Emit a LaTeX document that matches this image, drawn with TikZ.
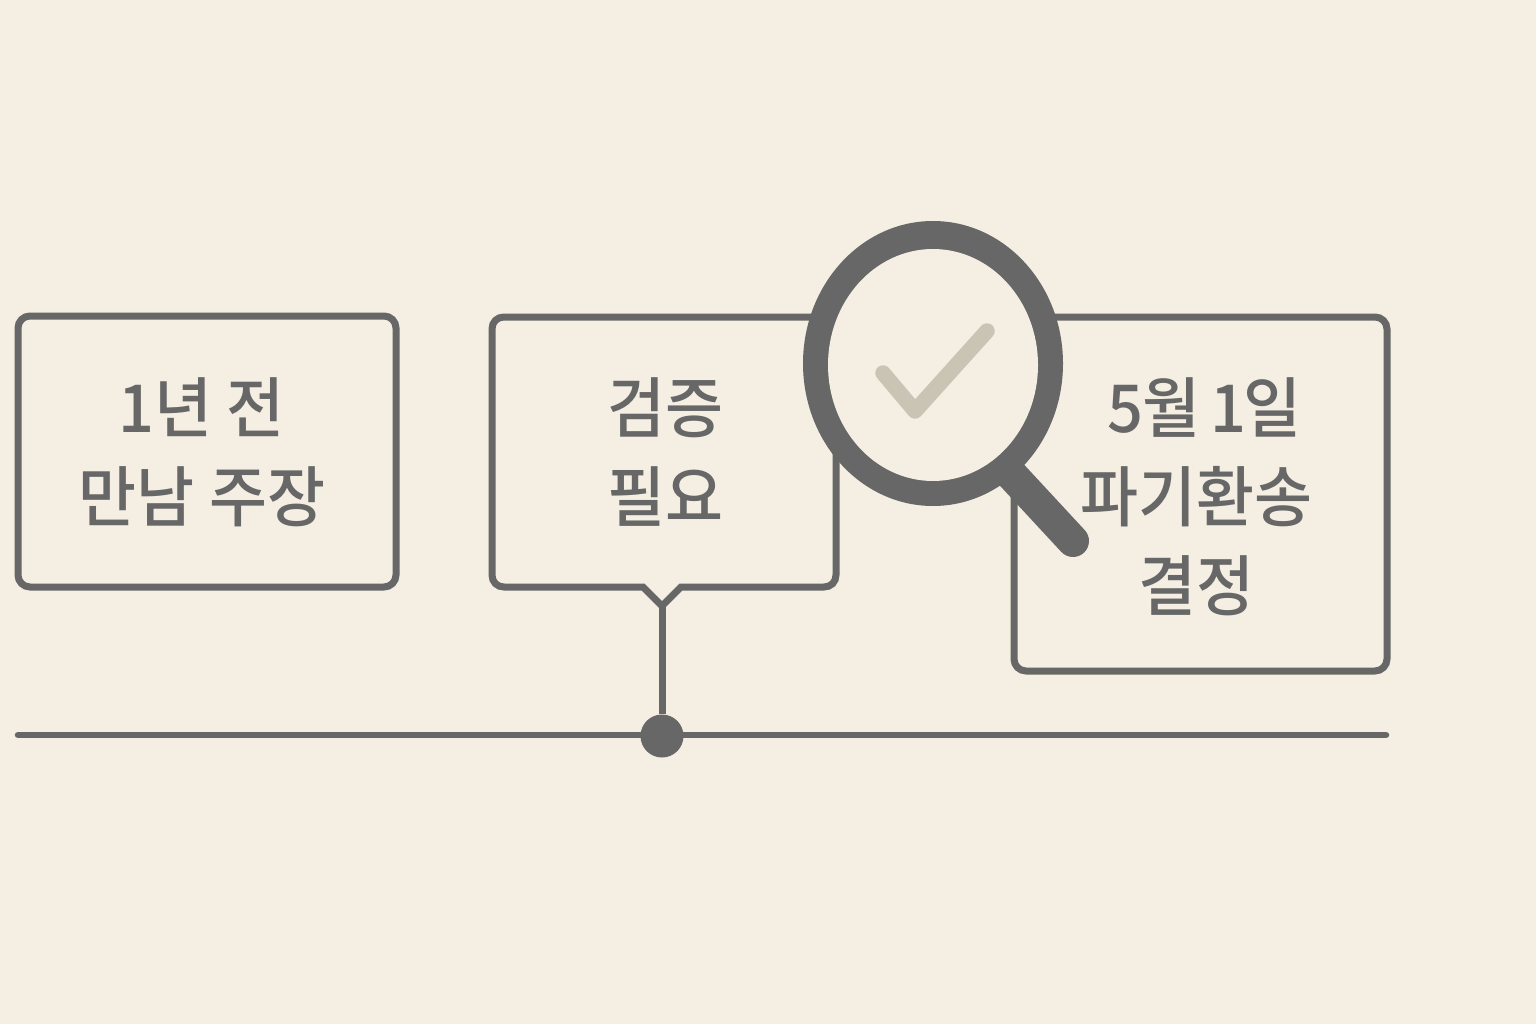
\documentclass[tikz,border=0pt]{standalone}
\usepackage{fontspec}
\setmainfont[FakeStretch=0.955]{Noto Sans CJK KR Medium}
\usetikzlibrary{shapes.geometric}
\definecolor{paper}{HTML}{F4EEE3}
\definecolor{ink}{HTML}{666766}
\definecolor{tick}{HTML}{C9C4B3}
\tikzset{
  boxframe/.style={draw=ink,line width=7pt,rounded corners=12pt,fill=none,inner sep=0pt},
  label/.style={text=ink,align=center,font=\fontsize{66}{89}\selectfont,inner sep=0pt},
  wire/.style={draw=ink,line width=7pt},
  lensdisc/.style={ellipse,inner sep=0pt,draw=none},
  handle/.style={draw=ink,line width=32pt,line cap=round},
  checkmark/.style={draw=tick,line width=15.5pt,line cap=round,line join=round},
}
\begin{document}
\begin{tikzpicture}[x=1pt,y=-1pt]
\useasboundingbox (0,0) rectangle (1536,1024);
\fill[paper] (0,0) rectangle (1536,1024);
% timeline
\coordinate (tlA) at (18,735);
\coordinate (tlB) at (1386,735);
\draw[wire,line width=6.5pt,line cap=round] (tlA) -- (tlB);
\node[circle,fill=ink,minimum size=43pt,inner sep=0pt] (dot) at (662,736) {};
% boxes
\node[boxframe,minimum width=378pt,minimum height=271pt] (box1) at (207,451.5) {};
\coordinate (tip) at (662,606);
\draw[wire,line join=miter] (643,587) -- (504,587)
  .. controls (497,587) and (492,582) .. (492,575) -- (492,329)
  .. controls (492,322) and (497,317) .. (504,317) -- (824,317)
  .. controls (831,317) and (836,322) .. (836,329) -- (836,575)
  .. controls (836,582) and (831,587) .. (824,587) -- (681,587)
  -- (tip) -- cycle;
\draw[wire] (tip) -- (dot);
\node[boxframe,minimum width=373pt,minimum height=354pt] (box3) at (1200.5,494) {};
% magnifier
\coordinate (hA) at (1010,473);
\coordinate (hB) at (1073,541);
\draw[handle] (hA) -- (hB);
\node[lensdisc,fill=ink,minimum width=260pt,minimum height=285pt] (ringOuter) at (933,363.5) {};
\node[lensdisc,fill=paper,minimum width=210pt,minimum height=232pt] (ringInner) at (933,365) {};
\draw[checkmark] (883,373) -- (915,411) -- (987,331);
% labels
\node[label] (t1) at (202,452) {1년 전\\만남 주장};
\node[label] (t2) at (665,452) {검증\\필요};
\node[label] (t3) at (1196,497) {\hspace*{16pt}5월\kern-5pt\ 1\kern-3pt 일\\파기환송\\결정};
\end{tikzpicture}
\end{document}
